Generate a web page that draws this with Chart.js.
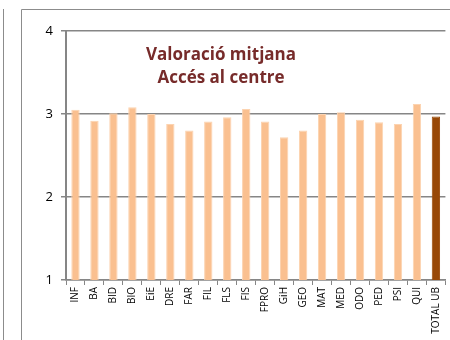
<!DOCTYPE html>
<html>
<head>
<meta charset="utf-8">
<script src="https://cdn.jsdelivr.net/npm/chart.js@4/dist/chart.umd.min.js"></script>
<style>
  html, body { margin: 0; padding: 0; background: #fff; }
  #wrap { width: 450px; height: 340px; }
</style>
</head>
<body>
<div id="wrap"><canvas id="chart" width="450" height="340"></canvas></div>
<script>
const categories = ['INF', 'BA', 'BID', 'BIO', 'EiE', 'DRE', 'FAR', 'FIL', 'FLS', 'FIS', 'FPRO',
  'GiH', 'GEO', 'MAT', 'MED', 'ODO', 'PED', 'PSI', 'QUI', 'TOTAL UB'];
const valoracio = [3.05, 2.92, 3.01, 3.08, 3.0, 2.88, 2.8, 2.91, 2.96, 3.06, 2.91,
  2.72, 2.8, 3.0, 3.02, 2.93, 2.9, 2.88, 3.12, 2.97];
const yTicks = [1, 2, 3, 4];
const titleLines = ['Valoració mitjana', 'Accés al centre'];

const light = '#FAC090';
const dark = '#984807';
const gridGray = '#868686';

// panel frame and the in-plot title
const decor = {
  id: 'decor',
  beforeDraw(chart) {
    const ctx = chart.ctx;
    ctx.save();
    ctx.strokeStyle = '#8c8c8c';
    ctx.lineWidth = 1;
    ctx.beginPath();
    ctx.moveTo(3.5, 9);
    ctx.lineTo(3.5, 340);
    ctx.moveTo(21.5, 340);
    ctx.lineTo(21.5, 9.5);
    ctx.lineTo(450, 9.5);
    ctx.stroke();
    ctx.restore();
  },
  afterDraw(chart) {
    const ctx = chart.ctx;
    ctx.save();
    ctx.fillStyle = '#772B2A';
    ctx.font = 'bold 17px "Open Sans", sans-serif';
    ctx.textAlign = 'center';
    ctx.textBaseline = 'middle';
    ctx.fillText(titleLines[0], 221, 55);
    ctx.fillText(titleLines[1], 221, 78);
    ctx.restore();
  }
};

new Chart(document.getElementById('chart'), {
  type: 'bar',
  data: {
    labels: categories,
    datasets: [{
      data: valoracio,
      backgroundColor: categories.map((c, i) => i === categories.length - 1 ? dark : light),
      borderColor: categories.map((c, i) => i === categories.length - 1 ? dark : '#FCD3B0'),
      borderWidth: 1,
      barPercentage: 0.44,
      categoryPercentage: 1
    }]
  },
  options: {
    responsive: false,
    animation: false,
    layout: { padding: { left: 21, top: 31, right: 3, bottom: 0 } },
    plugins: { legend: { display: false }, tooltip: { enabled: false } },
    scales: {
      x: {
        afterFit: s => { s.height = 60; },
        grid: { offset: true, drawOnChartArea: false, color: gridGray, tickLength: 5, lineWidth: 1 },
        border: { color: gridGray, width: 1.5 },
        ticks: {
          minRotation: 90, maxRotation: 90, autoSkip: false, padding: 2,
          color: '#000', font: { family: 'Open Sans', size: 10 }
        }
      },
      y: {
        min: 1, max: 4,
        afterFit: s => { s.width = 45; },
        afterBuildTicks: s => { s.ticks = yTicks.map(v => ({ value: v })); },
        grid: { color: gridGray, lineWidth: 1.5, tickLength: 5 },
        border: { color: gridGray, width: 2 },
        ticks: { color: '#000', padding: 8, font: { family: 'Open Sans', size: 13 } }
      }
    }
  },
  plugins: [decor]
});
</script>
</body>
</html>
